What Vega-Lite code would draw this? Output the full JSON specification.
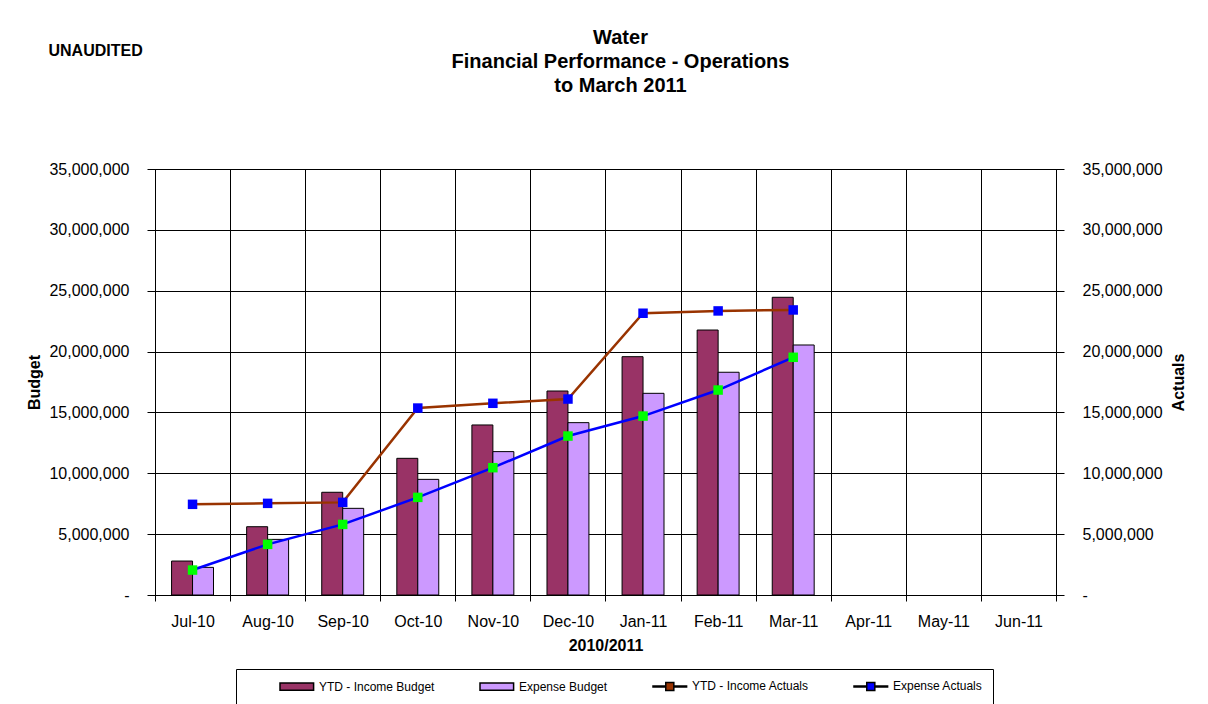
{
  "$schema": "https://vega.github.io/schema/vega-lite/v6.json",
  "width": 901,
  "height": 426,
  "autosize": {"type": "none"},
  "padding": {"left": 155, "top": 169, "right": 152, "bottom": 109},
  "background": "white",
  "title": {
    "text": ["Water", "Financial Performance - Operations", "to March 2011"],
    "fontSize": 20,
    "fontWeight": "bold",
    "lineHeight": 24,
    "anchor": "middle",
    "dx": 15,
    "dy": 58,
    "color": "black"
  },
  "data": {
    "values": [
      {"month": "Jul-10", "series": "YTD - Income Budget", "value": 2790000},
      {"month": "Aug-10", "series": "YTD - Income Budget", "value": 5610000},
      {"month": "Sep-10", "series": "YTD - Income Budget", "value": 8440000},
      {"month": "Oct-10", "series": "YTD - Income Budget", "value": 11230000},
      {"month": "Nov-10", "series": "YTD - Income Budget", "value": 13970000},
      {"month": "Dec-10", "series": "YTD - Income Budget", "value": 16760000},
      {"month": "Jan-11", "series": "YTD - Income Budget", "value": 19580000},
      {"month": "Feb-11", "series": "YTD - Income Budget", "value": 21770000},
      {"month": "Mar-11", "series": "YTD - Income Budget", "value": 24460000},
      {"month": "Jul-10", "series": "Expense Budget", "value": 2270000},
      {"month": "Aug-10", "series": "Expense Budget", "value": 4570000},
      {"month": "Sep-10", "series": "Expense Budget", "value": 7120000},
      {"month": "Oct-10", "series": "Expense Budget", "value": 9500000},
      {"month": "Nov-10", "series": "Expense Budget", "value": 11780000},
      {"month": "Dec-10", "series": "Expense Budget", "value": 14160000},
      {"month": "Jan-11", "series": "Expense Budget", "value": 16570000},
      {"month": "Feb-11", "series": "Expense Budget", "value": 18300000},
      {"month": "Mar-11", "series": "Expense Budget", "value": 20540000},
      {"month": "Jul-10", "series": "YTD - Income Actuals", "value": 7450000},
      {"month": "Aug-10", "series": "YTD - Income Actuals", "value": 7530000},
      {"month": "Sep-10", "series": "YTD - Income Actuals", "value": 7610000},
      {"month": "Oct-10", "series": "YTD - Income Actuals", "value": 15360000},
      {"month": "Nov-10", "series": "YTD - Income Actuals", "value": 15750000},
      {"month": "Dec-10", "series": "YTD - Income Actuals", "value": 16100000},
      {"month": "Jan-11", "series": "YTD - Income Actuals", "value": 23150000},
      {"month": "Feb-11", "series": "YTD - Income Actuals", "value": 23340000},
      {"month": "Mar-11", "series": "YTD - Income Actuals", "value": 23420000},
      {"month": "Jul-10", "series": "Expense Actuals", "value": 2050000},
      {"month": "Aug-10", "series": "Expense Actuals", "value": 4160000},
      {"month": "Sep-10", "series": "Expense Actuals", "value": 5800000},
      {"month": "Oct-10", "series": "Expense Actuals", "value": 8020000},
      {"month": "Nov-10", "series": "Expense Actuals", "value": 10460000},
      {"month": "Dec-10", "series": "Expense Actuals", "value": 13060000},
      {"month": "Jan-11", "series": "Expense Actuals", "value": 14700000},
      {"month": "Feb-11", "series": "Expense Actuals", "value": 16840000},
      {"month": "Mar-11", "series": "Expense Actuals", "value": 19530000}
    ]
  },
  "layer": [
    {
      "transform": [{"filter": {"field": "series", "oneOf": ["YTD - Income Budget", "Expense Budget"]}}],
      "mark": {"type": "bar", "stroke": "black", "strokeWidth": 1},
      "encoding": {
        "x": {
          "field": "month", "type": "nominal", "sort": null,
          "scale": {"domain": ["Jul-10", "Aug-10", "Sep-10", "Oct-10", "Nov-10", "Dec-10", "Jan-11", "Feb-11", "Mar-11", "Apr-11", "May-11", "Jun-11"], "paddingInner": 0, "paddingOuter": 0},
          "axis": {
            "orient": "bottom", "title": "2010/2011", "tickBand": "extent", "grid": true,
            "gridColor": "black", "gridOpacity": 1, "gridWidth": 1,
            "ticks": true, "tickSize": 6, "tickColor": "black", "labelAngle": 0,
            "labelFontSize": 16, "labelPadding": 12, "labelColor": "black",
            "titleFontSize": 16, "titleFontWeight": "bold", "titlePadding": 8, "titleColor": "black",
            "domainColor": "black"
          }
        },
        "xOffset": {"field": "series", "scale": {"domain": ["YTD - Income Budget", "Expense Budget"], "paddingInner": 0, "paddingOuter": 0.79}},
        "y": {
          "field": "value", "type": "quantitative",
          "scale": {"domain": [0, 35000000], "nice": false},
          "axis": {
            "orient": "left", "title": "Budget",
            "values": [0, 5000000, 10000000, 15000000, 20000000, 25000000, 30000000, 35000000],
            "labelExpr": "datum.value == 0 ? '-' : format(datum.value, ',')",
            "grid": true, "gridColor": "black", "gridOpacity": 1, "gridWidth": 1,
            "tickSize": 8, "tickColor": "black", "labelPadding": 18, "labelFontSize": 16, "labelColor": "black",
            "titleFontSize": 16, "titleFontWeight": "bold", "titlePadding": 6, "titleColor": "black",
            "domainColor": "black"
          }
        },
        "color": {
          "field": "series", "type": "nominal",
          "scale": {
            "domain": ["YTD - Income Budget", "Expense Budget", "YTD - Income Actuals", "Expense Actuals"],
            "range": ["#993366", "#CC99FF", "#993300", "#0000FF"]
          },
          "legend": {
            "orient": "none", "legendX": 81, "legendY": 500, "direction": "horizontal", "columns": 4,
            "title": null, "strokeColor": "black", "fillColor": "white", "padding": 10, "columnPadding": 11,
            "labelFontSize": 12, "labelOffset": 26, "labelColor": "black", "symbolSize": 144, "symbolOffset": 33,
            "symbolType": {"expr": "indexof(datum.label, 'Budget') >= 0 ? 'M-1,-0.6H4.6V0.6H-1Z' : 'M-1,-0.1H1.13V-0.67H2.47V-0.1H4.6V0.1H2.47V0.67H1.13V0.1H-1Z'"},
            "encode": {
              "symbols": {
                "fill": {
                  "condition": [
                    {"test": "datum.label == 'YTD - Income Budget'", "value": "#993366"},
                    {"test": "datum.label == 'Expense Budget'", "value": "#CC99FF"},
                    {"test": "datum.label == 'YTD - Income Actuals'", "value": "#0000FF"}
                  ],
                  "value": "#00FF00"
                },
                "stroke": {
                  "condition": [
                    {"test": "indexof(datum.label, 'Budget') >= 0", "value": "black"},
                    {"test": "datum.label == 'YTD - Income Actuals'", "value": "#993300"}
                  ],
                  "value": "#0000FF"
                },
                "strokeWidth": {"value": 1},
                "opacity": {"value": 1},
                "fillOpacity": {"value": 1}
              }
            }
          }
        }
      }
    },
    {
      "transform": [{"filter": {"field": "series", "oneOf": ["YTD - Income Actuals", "Expense Actuals"]}}],
      "mark": {"type": "line", "strokeWidth": 2.5},
      "encoding": {
        "x": {
          "field": "month", "type": "nominal", "sort": null,
          "axis": {
            "orient": "top", "title": "UNAUDITED", "labels": false, "ticks": false, "domain": false, "grid": false,
            "titleAnchor": "start", "titleAlign": "left", "titleBaseline": "middle",
            "titleX": -107, "titleY": -119, "titleFontSize": 16, "titleFontWeight": "bold", "titleColor": "black"
          }
        },
        "y": {
          "field": "value", "type": "quantitative",
          "scale": {"domain": [0, 35000000], "nice": false},
          "axis": {
            "orient": "right", "title": "Actuals", "titleAngle": 270,
            "titleX": 122, "titleY": 213, "titleAlign": "center", "titleBaseline": "middle",
            "values": [0, 5000000, 10000000, 15000000, 20000000, 25000000, 30000000, 35000000],
            "labelExpr": "datum.value == 0 ? '-' : format(datum.value, ',')",
            "grid": false, "tickSize": 8, "tickColor": "black", "labelPadding": 18, "labelFontSize": 16, "labelColor": "black",
            "titleFontSize": 16, "titleFontWeight": "bold", "titleColor": "black",
            "domainColor": "black"
          }
        },
        "stroke": {"field": "series", "type": "nominal", "scale": {"domain": ["YTD - Income Actuals", "Expense Actuals"], "range": ["#993300", "#0000FF"]}, "legend": null}
      }
    },
    {
      "transform": [{"filter": {"field": "series", "oneOf": ["YTD - Income Actuals", "Expense Actuals"]}}],
      "mark": {"type": "point", "shape": "square", "filled": true, "size": 90, "opacity": 1, "strokeWidth": 0},
      "encoding": {
        "x": {"field": "month", "type": "nominal", "sort": null, "axis": null},
        "y": {"field": "value", "type": "quantitative", "scale": {"domain": [0, 35000000], "nice": false}, "axis": null},
        "fill": {"field": "series", "type": "nominal", "scale": {"domain": ["YTD - Income Actuals", "Expense Actuals"], "range": ["#0000FF", "#00FF00"]}, "legend": null}
      }
    }
  ],
  "resolve": {"scale": {"y": "independent", "fill": "independent", "stroke": "independent"}, "axis": {"x": "independent", "y": "independent"}},
  "config": {
    "font": "Liberation Sans",
    "view": {"stroke": "black", "strokeWidth": 1},
    "axis": {"labelFont": "Liberation Sans", "titleFont": "Liberation Sans"},
    "legend": {"labelFont": "Liberation Sans"},
    "title": {"font": "Liberation Sans"}
  }
}
